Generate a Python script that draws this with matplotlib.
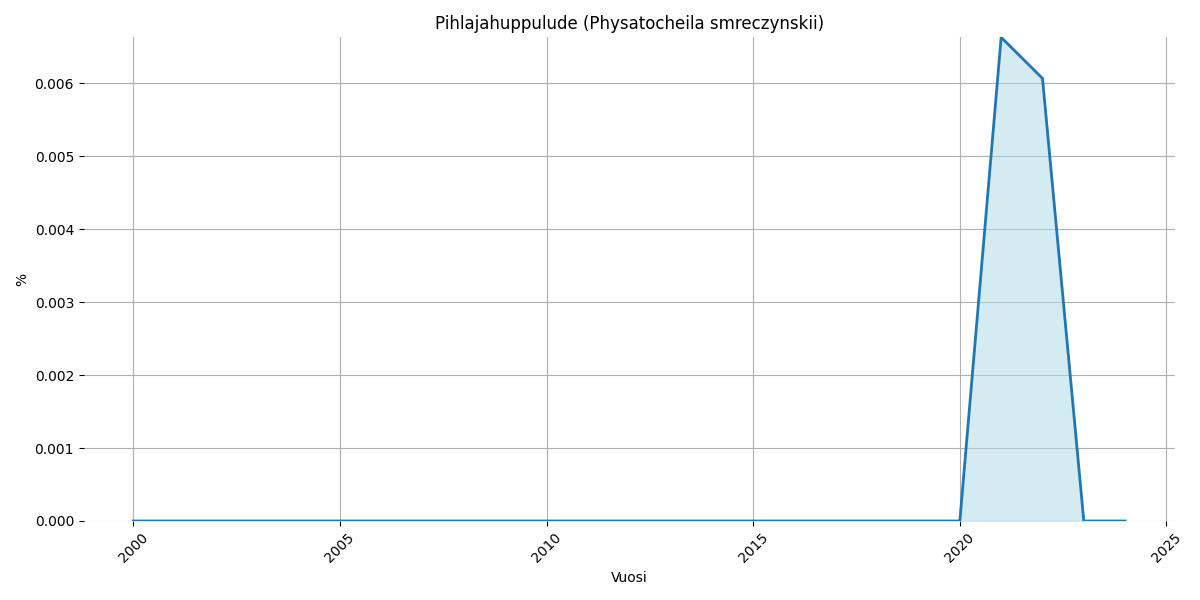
import matplotlib
matplotlib.use("Agg")
import matplotlib.pyplot as plt
import numpy as np

vuodet = np.arange(2000, 2025)
osuus = np.zeros(len(vuodet))
osuus[vuodet == 2021] = 0.006632
osuus[vuodet == 2022] = 0.006069

fig, ax = plt.subplots(figsize=(12, 6), dpi=100)
ax.plot(vuodet, osuus, color='#1f77b4', linewidth=2)
ax.fill_between(vuodet, osuus, color='lightblue', alpha=0.5)

ax.set_title('Pihlajahuppulude (Physatocheila smreczynskii)')
ax.set_xlabel('Vuosi')
ax.set_ylabel('%')
ax.set_ylim(0, osuus.max())
ax.grid(True, color='#b0b0b0')
ax.set_axisbelow(True)
for s in ax.spines.values():
    s.set_visible(False)
plt.xticks(rotation=45)

plt.tight_layout()
plt.savefig('out.png')
